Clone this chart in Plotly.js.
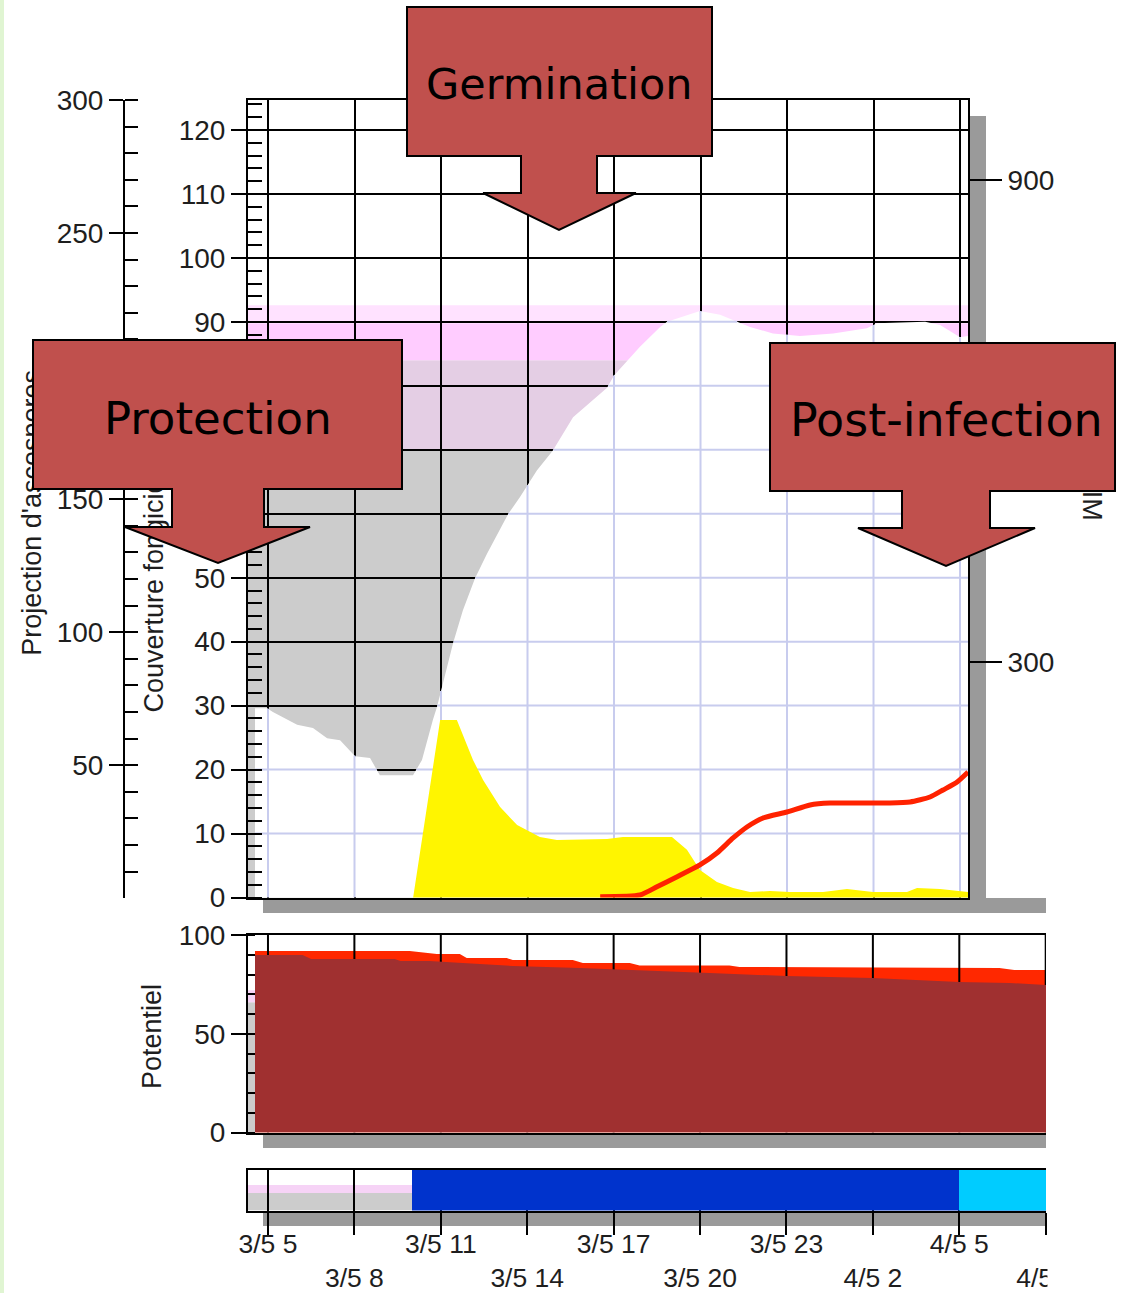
<!DOCTYPE html>
<html><head><meta charset="utf-8">
<script src="https://cdn.plot.ly/plotly-3.0.1.min.js"></script>
<style>html,body{margin:0;padding:0;background:#fff;}#chart{width:1124px;height:1293px;}</style>
</head><body><div id="chart"></div>
<script>
// ---------------- DATA (time = hours since 3/5 00:00) ----------------
const xTickVals   = [5, 8, 11, 14, 17, 20, 23, 26, 29, 32];
const xTickLabels = ['3/5 5','3/5 8','3/5 11','3/5 14','3/5 17','3/5 20','3/5 23','4/5 2','4/5 5','4/5 8'];

// upper limit of the white (uncovered) area, Couverture fongicide scale
const curveX = [4.55, 4.97, 5.17, 6.01, 6.56, 7.05, 7.50, 8.02, 8.54, 8.88, 10.03, 10.34, 10.72, 10.86, 11.42, 11.76, 12.18, 12.60, 13.32, 13.74, 14.33, 14.88, 15.58, 16.76, 17.00, 17.90, 18.60, 18.84, 19.98, 20.68, 21.27, 21.72, 22.51, 23.45, 24.60, 25.77, 26.12, 26.92, 27.79, 28.31, 28.65, 29.00, 29.28];
const curveY = [29.6, 29.6, 29.0, 27.0, 26.5, 24.9, 24.6, 22.1, 21.8, 19.1, 19.1, 21.5, 27.8, 29.8, 39.8, 44.9, 49.9, 53.8, 59.9, 62.6, 66.8, 69.9, 75.1, 79.7, 81.6, 86.1, 89.2, 90.0, 91.7, 91.1, 90.0, 89.2, 88.2, 87.8, 88.2, 89.0, 89.8, 89.9, 90.0, 89.5, 88.5, 87.6, 87.8];

// background coverage bands (Couverture fongicide scale): grey, grey/pink, pink, light pink
const coverLevels = [0, 70, 84, 89.8, 92.6];
const coverColors = ['#cccccc', '#e4cee4', '#ffccff', '#ffe2ff'];

// ascospore ejection (yellow), Projection d'ascospores scale
const ejectX = [10.03, 10.97, 11.55, 12.11, 12.46, 13.05, 13.64, 14.43, 15.02, 16.76, 17.31, 19.01, 19.53, 19.98, 20.57, 21.13, 21.72, 22.41, 23.10, 24.25, 25.08, 25.98, 27.16, 27.51, 28.31, 28.90, 29.28];
const ejectY = [0, 67.0, 67.0, 52.0, 44.5, 34.3, 27.5, 23.0, 21.9, 22.3, 23.0, 23.0, 18.2, 10.6, 6.1, 3.9, 2.4, 2.7, 2.4, 2.4, 3.5, 2.4, 2.4, 3.9, 3.5, 2.7, 2.4];

// RIM value (red line), right scale
const rimX = [16.52, 17.90, 18.49, 19.19, 19.98, 20.57, 21.13, 21.61, 22.17, 23.00, 23.80, 24.49, 26.57, 27.27, 27.96, 28.41, 28.90, 29.28];
const rimY = [7.8, 9.9, 20.2, 32.7, 47.3, 62.2, 80.9, 94.6, 105.8, 113.2, 122.0, 124.4, 124.4, 125.7, 131.9, 140.6, 150.6, 163.0];

// Potentiel: total (red) and remaining (brown)
const potTotalX = [4.55, 9.92, 10.86, 11.66, 11.90, 13.29, 13.50, 15.58, 15.93, 17.56, 17.90, 21.02, 21.37, 30.39, 30.91, 32.01];
const potTotalY = [91.9, 91.9, 90.4, 90.4, 88.3, 88.3, 87.3, 87.3, 85.8, 85.8, 84.6, 84.6, 83.8, 83.3, 82.3, 82.3];
const potX = [4.55, 6.20, 6.50, 9.40, 9.60, 10.60, 11.76, 13.50, 15.82, 17.80, 18.60, 20.33, 23.00, 25.98, 29.00, 30.74, 32.01];
const potY = [89.9, 89.9, 87.8, 87.8, 86.8, 86.8, 85.8, 84.3, 83.3, 82.3, 81.8, 80.8, 79.2, 78.2, 76.2, 75.7, 74.7];

// phase band at the bottom
const phaseStart = [10.0, 29.0];
const phaseEnd   = [32.01, 32.01];
const phaseColor = ['#0033cc', '#00ccff'];

// axis tick labels (labels hidden under the callouts in the original are left blank)
const coverTickVals = [0, 10, 20, 30, 40, 50, 60, 70, 80, 90, 100, 110, 120];
const coverTickText = ['0', '10', '20', '30', '40', '50', '', '', '', '90', '100', '110', '120'];
const projTickVals = [50, 100, 150, 200, 250, 300];
const projTickText = ['50', '100', '150', '', '250', '300'];
const rimTickVals = [300, 600, 900];
const rimTickText = ['300', '', '900'];

// ---------------- LAYOUT GEOMETRY ----------------
const W = 1124, H = 1293;
const px = x => x / W, py = y => 1 - y / H;
const mainXDom = [px(248), px(968)], botXDom = [px(248), px(1046)];
const mainYDom = [py(897.5), py(100)], potYDom = [py(1132.5), py(935)], bandYDom = [py(1210.5), py(1170)];
const mainXRange = [4.3064, 29.277], botXRange = [4.3064, 32.01];

const tickFont = {family: 'Liberation Sans, Arial, sans-serif', size: 28, color: '#1e1e1e'};
const dateFont = {family: 'Liberation Sans, Arial, sans-serif', size: 26.5, color: '#1e1e1e'};
const titleFont = {family: 'Liberation Sans, Arial, sans-serif', size: 27, color: '#1e1e1e'};

// ---------- helpers ----------
function interp(xs, ys, t) {
  if (t < xs[0] || t > xs[xs.length - 1]) return null;
  for (let i = 0; i < xs.length - 1; i++) {
    if (t >= xs[i] && t <= xs[i + 1]) return ys[i] + (ys[i + 1] - ys[i]) * (t - xs[i]) / (xs[i + 1] - xs[i]);
  }
  return null;
}
function segmentsAbove(xs, ys, level) {
  const segs = []; let start = ys[0] > level ? xs[0] : null;
  for (let i = 0; i < xs.length - 1; i++) {
    const a = ys[i] - level, b = ys[i + 1] - level;
    if ((a > 0) !== (b > 0)) {
      const xc = xs[i] + (a / (a - b)) * (xs[i + 1] - xs[i]);
      if (a > 0) { segs.push([start, xc]); start = null; } else start = xc;
    }
  }
  if (start !== null) segs.push([start, xs[xs.length - 1]]);
  return segs;
}

// light grid only inside the white area
const lavX = [], lavY = [];
xTickVals.filter(t => t <= mainXRange[1]).forEach(t => {
  const top = interp(curveX, curveY, t);
  if (top !== null) { lavX.push(t, t, null); lavY.push(0, top, null); }
});
for (let lv = 10; lv <= 120; lv += 10) {
  segmentsAbove(curveX, curveY, lv).forEach(s => { lavX.push(s[0], s[1], null); lavY.push(lv, lv, null); });
}
// grid in Potentiel panel
const pgX = [], pgY = [];
xTickVals.forEach(t => { pgX.push(t, t, null); pgY.push(0, 100, null); });

const ghost = (xa, ya, xv) => ({type: 'scatter', x: [xv], y: [0], xaxis: xa, yaxis: ya, mode: 'markers', marker: {opacity: 0}, hoverinfo: 'skip'});
const data = [
  {type: 'scatter', x: curveX, y: curveY, xaxis: 'x', yaxis: 'y', mode: 'lines', line: {width: 0, color: '#fff'}, fill: 'tozeroy', fillcolor: '#ffffff', hoverinfo: 'skip'},
  {type: 'scatter', x: lavX, y: lavY, xaxis: 'x', yaxis: 'y', mode: 'lines', line: {width: 2, color: 'rgb(200,204,238)'}, connectgaps: false, hoverinfo: 'skip'},
  {type: 'scatter', x: ejectX, y: ejectY, xaxis: 'x', yaxis: 'y2', mode: 'lines', line: {width: 0, color: '#ffff00'}, fill: 'tozeroy', fillcolor: '#fff500', hoverinfo: 'skip'},
  {type: 'scatter', x: rimX, y: rimY, xaxis: 'x', yaxis: 'y3', mode: 'lines', line: {width: 5, color: '#ff2200', shape: 'spline', smoothing: 0.6}, hoverinfo: 'skip'},
  ghost('x', 'y6', mainXRange[0]), ghost('x', 'y7', mainXRange[0]), ghost('x', 'y8', mainXRange[0]),
  {type: 'scatter', x: potTotalX, y: potTotalY, xaxis: 'x2', yaxis: 'y4', mode: 'lines', line: {width: 0, color: '#ff2800'}, fill: 'tozeroy', fillcolor: '#ff2800', hoverinfo: 'skip'},
  {type: 'scatter', x: pgX, y: pgY, xaxis: 'x2', yaxis: 'y4', mode: 'lines', line: {width: 2, color: '#000'}, connectgaps: false, hoverinfo: 'skip'},
  {type: 'scatter', x: potX, y: potY, xaxis: 'x2', yaxis: 'y4', mode: 'lines', line: {width: 0, color: '#a03030'}, fill: 'tozeroy', fillcolor: '#a03030', hoverinfo: 'skip'}
];
phaseStart.forEach((s, i) => {
  data.push({type: 'bar', orientation: 'h', y: [0.5], x: [phaseEnd[i] - s], base: [s], width: [1], xaxis: 'x3', yaxis: 'y5', marker: {color: phaseColor[i], line: {width: 0}}, hoverinfo: 'skip'});
});
data.push(ghost('x4', 'y5', botXRange[0]));

// ---------- shapes ----------
const shapes = [];
[[969, 116, 986, 898], [263, 898, 1046, 913], [263, 1133, 1046, 1148], [263, 1211, 1046, 1226]].forEach(r => {
  shapes.push({type: 'rect', xref: 'paper', yref: 'paper', x0: px(r[0]), x1: px(r[2]), y0: py(r[3]), y1: py(r[1]), fillcolor: '#9a9a9a', line: {width: 0}, layer: 'below'});
});
shapes.push({type: 'rect', xref: 'paper', yref: 'paper', x0: 0, x1: px(4), y0: 0, y1: 1, fillcolor: '#e0f5d2', line: {width: 0}, layer: 'below'});
for (let i = 0; i < coverColors.length; i++) {
  shapes.push({type: 'rect', xref: 'x', yref: 'y', x0: mainXRange[0], x1: mainXRange[1], y0: coverLevels[i], y1: coverLevels[i + 1], fillcolor: coverColors[i], line: {width: 0}, layer: 'below'});
}
shapes.push({type: 'rect', xref: 'x2', yref: 'y4', x0: botXRange[0], x1: potX[0], y0: 0, y1: 66, fillcolor: '#cccccc', line: {width: 0}, layer: 'below'});
shapes.push({type: 'rect', xref: 'x2', yref: 'y4', x0: botXRange[0], x1: potX[0], y0: 66, y1: 72, fillcolor: '#f6d3f6', line: {width: 0}, layer: 'below'});
shapes.push({type: 'rect', xref: 'x3', yref: 'y5', x0: botXRange[0], x1: phaseStart[0], y0: 0, y1: 0.43, fillcolor: '#cccccc', line: {width: 0}, layer: 'below'});
shapes.push({type: 'rect', xref: 'x3', yref: 'y5', x0: botXRange[0], x1: phaseStart[0], y0: 0.43, y1: 0.63, fillcolor: '#f6d3f6', line: {width: 0}, layer: 'below'});

function callout(pts) {
  return {type: 'path', xref: 'paper', yref: 'paper', layer: 'above', fillcolor: '#c0504d', line: {color: '#000', width: 2},
    path: pts.map((p, i) => (i ? 'L' : 'M') + px(p[0]).toFixed(5) + ',' + py(p[1]).toFixed(5)).join(' ') + ' Z'};
}
shapes.push(callout([[407,7],[712,7],[712,156],[597,156],[597,193],[636,193],[559,230],[483,193],[521,193],[521,156],[407,156]]));
shapes.push(callout([[33,340],[402,340],[402,489],[264,489],[264,527],[310,527],[218,563],[125,527],[172,527],[172,489],[33,489]]));
shapes.push(callout([[770,343],[1115,343],[1115,491],[990,491],[990,528],[1035,528],[946,566],[858,528],[902,528],[902,491],[770,491]]));
shapes.push({type: 'rect', xref: 'paper', yref: 'paper', x0: px(1047.5), x1: 1, y0: 0, y1: py(1150), fillcolor: '#fff', line: {width: 0}, layer: 'above'});

const calloutFont = {family: '"Comic Sans MS", "DejaVu Sans", sans-serif', color: '#000'};
const annotations = [
  {xref: 'paper', yref: 'paper', x: px(559), y: py(84), text: 'Germination', showarrow: false, xanchor: 'center', yanchor: 'middle', font: Object.assign({size: 43}, calloutFont)},
  {xref: 'paper', yref: 'paper', x: px(218), y: py(418), text: 'Protection', showarrow: false, xanchor: 'center', yanchor: 'middle', font: Object.assign({size: 45}, calloutFont)},
  {xref: 'paper', yref: 'paper', x: px(946), y: py(420), text: 'Post-infection', showarrow: false, xanchor: 'center', yanchor: 'middle', font: Object.assign({size: 46}, calloutFont)},
  {xref: 'paper', yref: 'paper', x: px(152), y: py(1037), text: 'Potentiel', showarrow: false, textangle: -90, xanchor: 'center', yanchor: 'middle', font: titleFont}
];

const mainFrac = y => (897.5 - y) / 797.5;
const ax = {showgrid: false, zeroline: false, fixedrange: true};
const layout = {
  width: W, height: H, margin: {l: 0, r: 0, t: 0, b: 0}, autosize: false,
  paper_bgcolor: '#fff', plot_bgcolor: '#fff', showlegend: false, barmode: 'overlay', bargap: 0,
  font: tickFont, hovermode: false,
  xaxis: Object.assign({}, ax, {domain: mainXDom, range: mainXRange, anchor: 'y', tickmode: 'array', tickvals: xTickVals, showticklabels: false, ticks: '', showgrid: true, gridcolor: '#000', gridwidth: 2, showline: true, mirror: true, linecolor: '#000', linewidth: 2}),
  yaxis: Object.assign({}, ax, {domain: mainYDom, range: [0, 124.69], anchor: 'x', tickmode: 'array', tickvals: coverTickVals, ticktext: coverTickText, ticks: 'outside', ticklen: 15, tickwidth: 2, tickcolor: '#000', minor: {tickmode: 'linear', ticks: 'inside', ticklen: 14, tickwidth: 2, tickcolor: '#000', tick0: 0, dtick: 2}, showgrid: true, gridcolor: '#000', gridwidth: 2, showline: true, linecolor: '#000', linewidth: 2, tickfont: tickFont}),
  yaxis2: Object.assign({}, ax, {overlaying: 'y', anchor: 'free', position: px(124), side: 'left', range: [0.3, 300], tickmode: 'array', tickvals: projTickVals, ticktext: projTickText, ticks: 'outside', ticklen: 14, tickwidth: 2, tickcolor: '#000', minor: {tickmode: 'linear', ticks: 'inside', ticklen: 13, tickwidth: 2, tickcolor: '#000', tick0: 0, dtick: 10}, showline: true, linecolor: '#000', linewidth: 2, tickfont: tickFont}),
  yaxis3: Object.assign({}, ax, {overlaying: 'y', anchor: 'x', side: 'right', range: [6.8, 999.6], tickmode: 'array', tickvals: rimTickVals, ticktext: rimTickText, ticks: 'outside', ticklen: 32, tickwidth: 2, tickcolor: '#000', showline: true, linecolor: '#000', linewidth: 2, tickfont: tickFont}),
  yaxis6: Object.assign({}, ax, {overlaying: 'y', anchor: 'free', position: px(46), side: 'left', range: [0, 1], tickmode: 'array', tickvals: [mainFrac(517)], ticktext: ["Projection d'ascospores"], tickangle: -90, ticks: '', showline: false, tickfont: titleFont}),
  yaxis7: Object.assign({}, ax, {overlaying: 'y', anchor: 'free', position: px(168), side: 'left', range: [0, 1], tickmode: 'array', tickvals: [mainFrac(592)], ticktext: ['Couverture fongicide'], tickangle: -90, ticks: '', showline: false, tickfont: titleFont}),
  yaxis8: Object.assign({}, ax, {overlaying: 'y', anchor: 'free', position: px(1077), side: 'right', range: [0, 1], tickmode: 'array', tickvals: [mainFrac(500)], ticktext: ['RIM'], tickangle: 90, ticks: '', showline: false, tickfont: titleFont}),
  xaxis2: Object.assign({}, ax, {domain: botXDom, range: botXRange, anchor: 'y4', showticklabels: false, ticks: '', showline: true, mirror: true, linecolor: '#000', linewidth: 2}),
  yaxis4: Object.assign({}, ax, {domain: potYDom, range: [0, 100], anchor: 'x2', tickmode: 'linear', tick0: 0, dtick: 50, ticks: 'outside', ticklen: 15, tickwidth: 2, tickcolor: '#000', minor: {ticks: 'inside', ticklen: 7, tickwidth: 2, tickcolor: '#000', tick0: 0, dtick: 10}, showline: true, linecolor: '#000', linewidth: 2, tickfont: tickFont}),
  xaxis3: Object.assign({}, ax, {domain: botXDom, range: botXRange, anchor: 'y5', tickmode: 'array', tickvals: xTickVals, showticklabels: false, ticks: 'outside', ticklen: 22, tickwidth: 2, tickcolor: '#000',
    showgrid: true, gridcolor: '#000', gridwidth: 2, showline: true, mirror: true, linecolor: '#000', linewidth: 2}),
  xaxis4: Object.assign({}, ax, {overlaying: 'x3', anchor: 'y5', side: 'bottom', range: botXRange, tickmode: 'array', tickvals: xTickVals,
    ticktext: xTickLabels.map((t, i) => i % 2 ? '<br>' + t : t), tickangle: 0, ticks: '', ticklabelstandoff: 15, showline: false, tickfont: dateFont}),
  yaxis5: Object.assign({}, ax, {domain: bandYDom, range: [0, 1], anchor: 'x3', showticklabels: false, ticks: '', showline: true, linecolor: '#000', linewidth: 2}),
  shapes: shapes,
  annotations: annotations
};
Plotly.newPlot('chart', data, layout, {staticPlot: true, displayModeBar: false});
</script></body></html>
